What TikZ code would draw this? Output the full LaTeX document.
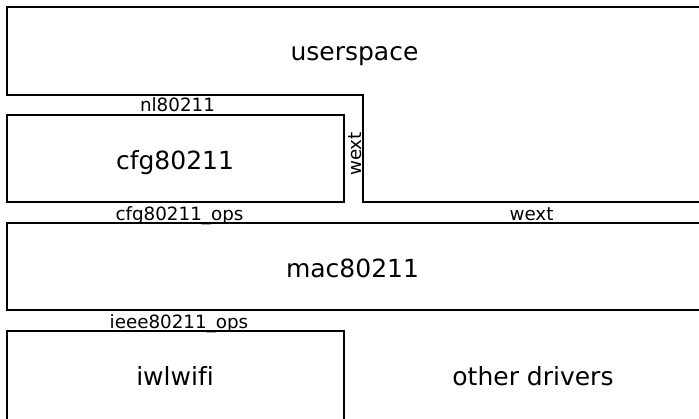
\documentclass[tikz,border=0pt]{standalone}
\usepackage{fontspec}
\setmainfont[Ligatures=NoCommon]{DejaVu Sans}
\begin{document}
\begin{tikzpicture}[x=1pt,y=-1pt,
  boxline/.style={draw=black,line width=2pt},
  bigbox/.style={boxline,inner sep=0pt},
  bigtext/.style={inner sep=0pt,anchor=base,font=\fontsize{25}{29}\selectfont},
  lbl/.style={inner sep=0pt,anchor=base,font=\fontsize{18.3}{21}\selectfont}]
\useasboundingbox (0,0) rectangle (699,418);
\clip (0,0) rectangle (699,418);
% userspace polygon
\draw[boxline] (712,7) -- (7,7) -- (7,95) -- (363,95) -- (363,202) -- (712,202);
\node[bigtext] (user) at (354.5,60) {userspace};
% cfg80211
\node[bigbox,minimum width=337pt,minimum height=87pt] (cfg) at (175.5,158.5) {};
\node[bigtext] (cfgtext) at (175,169) {cfg80211};
% mac80211
\node[bigbox,minimum width=694pt,minimum height=87pt] (mac) at (354,266.5) {};
\node[bigtext] (mactext) at (352.5,277) {mac80211};
% iwlwifi
\node[bigbox,minimum width=337pt,minimum height=90pt] (iwl) at (175.5,376) {};
\node[bigtext] (iwltext) at (175,385) {iwlwifi};
\node[bigtext] (other) at (533,385) {other drivers};
% labels
\node[lbl] (nl) at (177.5,111.5) {nl80211};
\node[lbl,rotate=90] (wextv) at (361.5,154) {wext};
\node[lbl] (cfgops) at (179.5,220.5) {cfg80211\_ops};
\node[lbl] (wexth) at (531.5,220) {wext};
\node[lbl] (ieeeops) at (179,328) {ieee80211\_ops};
\end{tikzpicture}
\end{document}
